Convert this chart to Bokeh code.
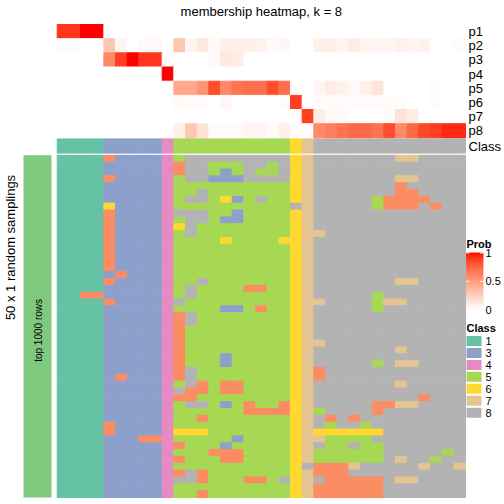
import numpy as np
from bokeh.plotting import figure
from bokeh.models import Range1d
from bokeh.embed import file_html
from bokeh.resources import INLINE
from bokeh.core.properties import value

# ---------------- data ----------------
title = "membership heatmap, k = 8"
prob_labels = ["p1", "p2", "p3", "p4", "p5", "p6", "p7", "p8"]

p1 = [0.92, 0.92, 1.0, 1.0] + [0.0] * 31
p2 = [0.02, 0.02, 0, 0, 0.3, 0.05, 0, 0.03, 0.03, 0,
      0.3, 0.05, 0.12, 0.03, 0.08, 0.08, 0.08, 0.07, 0.02, 0.04,
      0, 0,
      0.08, 0.08, 0.06, 0.1, 0.05, 0.05, 0.05, 0.08, 0.05, 0.07, 0, 0, 0.02]
p3 = [0, 0, 0, 0, 0.6, 0.9, 1.0, 0.92, 0.92, 0,
      0, 0, 0, 0.03, 0.12, 0.1, 0, 0, 0, 0,
      0, 0,
      0, 0, 0, 0, 0, 0, 0, 0, 0, 0, 0, 0, 0]
p4 = [0] * 9 + [1.0] + [0] * 25
p5 = [0] * 10 + [0.45, 0.45, 0.55, 0.85, 0.6, 0.7, 0.72, 0.72, 0.85, 0.72,
                 0, 0,
                 0.05, 0.1, 0.07, 0.04, 0.08, 0.15, 0, 0, 0, 0, 0.02, 0, 0]
p6 = [0] * 10 + [0.03, 0.02, 0.02, 0, 0.04, 0, 0, 0, 0, 0.02,
                 0.9, 0,
                 0.02, 0.02, 0.02, 0.02, 0.02, 0.02, 0.02, 0.02, 0, 0, 0.02, 0, 0]
p7 = [0] * 10 + [0] * 10 + [0, 0.9,
                            0.1, 0.03, 0.03, 0, 0, 0, 0.03, 0.15, 0.1, 0, 0, 0, 0]
p8 = [0] * 10 + [0.08, 0.3, 0.15, 0.02, 0.02, 0.02, 0.06, 0.06, 0.02, 0.08,
                 0.01, 0.01,
                 0.6, 0.65, 0.7, 0.75, 0.75, 0.7, 0.85, 0.6, 0.75, 0.87, 0.9, 0.95, 0.95]
prob_matrix = [p1, p2, p3, p4, p5, p6, p7, p8]

consensus_class = [1] * 4 + [3] * 5 + [4] + [5] * 10 + [6] + [7] + [8] * 13

sampling_classes = [s.replace(" ", "") for s in [
    "1111 23333 4 5888888888 6 7 8888888778888",
    "1111 33333 4 2885558858 6 7 8888888888888",
    "1111 33333 4 2885358558 6 7 8888888888888",
    "1111 23333 4 5883338888 6 7 8888888778888",
    "1111 33333 4 5555555555 6 7 8888888288888",
    "1111 33333 4 5585555555 6 7 8888888228888",
    "1111 33333 4 5885635855 6 7 8888852222888",
    "1111 63333 4 5555555555 8 7 8888852228288",
    "1111 23333 4 8885535555 6 7 8888888888888",
    "1111 23333 4 5885335555 6 7 8888888888888",
    "1111 23333 4 6855555555 6 7 8888888888888",
    "1111 23333 4 5855555555 6 7 7888888888888",
    "1111 23333 4 5555655556 6 7 8888888888888",
    "1111 23333 4 5555555555 6 7 8888888888888",
    "1111 23333 4 5555555555 6 7 8888888888888",
    "1111 23333 4 5555555555 6 7 8888888888888",
    "1111 23333 4 5555555555 6 7 8888888888888",
    "1111 32333 4 5555555555 6 7 8888888888888",
    "1111 23333 4 5585555555 6 7 8888888778888",
    "1111 33333 4 5855552255 6 7 8888888888888",
    "1122 33333 4 5855555555 6 7 8888858888888",
    "1111 23333 4 8555555555 6 7 7888857788888",
    "1111 33333 4 5555335255 6 7 8888858888888",
    "1111 33333 4 2855555555 6 7 8888888888888",
    "1111 33333 4 2855555555 6 7 8888888888888",
    "1111 33333 4 2555555555 6 7 8888888888888",
    "1111 33333 4 2555555555 6 7 8888888888888",
    "1111 33333 4 2555555555 6 7 7888888888888",
    "1111 33333 4 2555555555 6 7 8888888788888",
    "1111 33333 4 2555355555 6 7 8888888888888",
    "1111 33333 4 2555355555 6 7 8888858778888",
    "1111 33333 4 2855555555 6 7 2888888888888",
    "1111 32333 4 2855555555 6 7 2888888888888",
    "1111 33333 4 5825225555 6 7 8888888788888",
    "1111 33333 4 8225225555 6 7 8888888888888",
    "1111 33333 4 2255555555 6 7 8888888882888",
    "1111 33333 4 5885352552 6 7 8888822778888",
    "1111 33333 4 5555552222 6 7 5888828888888",
    "1111 33333 4 5525555555 6 7 8282888888888",
    "1111 23333 4 5555555555 6 7 8588588888888",
    "1111 23333 4 6665555555 6 7 6666668888888",
    "1111 33322 4 5555535555 6 7 7555588888888",
    "1111 33333 4 2555355555 6 7 8558558888888",
    "1111 33333 4 5552225555 6 7 5555558888858",
    "1111 33333 4 2555225555 6 7 5555558788588",
    "1111 33333 4 5555555555 6 8 2227888887887",
    "1111 33333 4 2825555555 6 7 2228888888888",
    "1111 33333 4 8825552258 6 7 8222228778888",
    "1111 33333 4 5555555555 6 7 2222228888888",
    "1111 33333 4 5525555555 6 7 2222228888888",
]]

class_colors = {1: "#66C2A5", 2: "#FC8D62", 3: "#8DA0CB", 4: "#E78AC3",
                5: "#A6D854", 6: "#FFD92F", 7: "#E5C494", 8: "#B3B3B3"}
legend_classes = [1, 3, 4, 5, 6, 7, 8]
prob_ticks = [1.0, 0.5, 0.0]
prob_tick_labels = ["1", "0.5", "0"]
left_title = "50 x 1 random samplings"
split_title = "top 1000 rows"
split_color = "#7FC97F"

# ---------------- colour ramp (white -> red in Lab) ----------------
def _to_lin(c):
    c = c / 255.0
    return np.where(c <= 0.04045, c / 12.92, ((c + 0.055) / 1.055) ** 2.4)

def _from_lin(c):
    c = np.clip(c, 0, 1)
    return np.where(c <= 0.0031308, 12.92 * c, 1.055 * c ** (1 / 2.4) - 0.055) * 255

M = np.array([[0.4124, 0.3576, 0.1805], [0.2126, 0.7152, 0.0722], [0.0193, 0.1192, 0.9505]])
WHITE = np.array([0.95047, 1.0, 1.08883])

def rgb2lab(rgb):
    xyz = M @ _to_lin(np.array(rgb, float)) / WHITE
    f = np.where(xyz > 0.008856, np.cbrt(xyz), 7.787 * xyz + 16 / 116)
    return np.array([116 * f[1] - 16, 500 * (f[0] - f[1]), 200 * (f[1] - f[2])])

def lab2rgb(lab):
    fy = (lab[0] + 16) / 116
    fx = fy + lab[1] / 500
    fz = fy - lab[2] / 200
    f = np.array([fx, fy, fz])
    xyz = np.where(f ** 3 > 0.008856, f ** 3, (f - 16 / 116) / 7.787) * WHITE
    return _from_lin(np.linalg.inv(M) @ xyz)

LAB_W = rgb2lab([255, 255, 255])
LAB_R = rgb2lab([255, 0, 0])

def prob_color(v):
    v = float(np.clip(v, 0, 1))
    r, g, b = lab2rgb(LAB_W + (LAB_R - LAB_W) * v)
    return "#%02x%02x%02x" % (int(round(r)), int(round(g)), int(round(b)))

# ---------------- layout ----------------
HM_X0, HM_X1 = 56.7, 465.0
TOP_Y0, TOP_Y1 = 24.0, 137.4
CLS_Y0, CLS_Y1 = 138.4, 152.6
BOT_Y0, BOT_Y1 = 154.8, 497.0
n_col = len(consensus_class)
cw = (HM_X1 - HM_X0) / n_col
th = (TOP_Y1 - TOP_Y0) / len(prob_matrix)
bh = (BOT_Y1 - BOT_Y0) / len(sampling_classes)
FONT = value("Liberation Sans")

p = figure(width=504, height=504, x_range=Range1d(0, 504), y_range=Range1d(504, 0),
           output_backend="svg", toolbar_location=None, min_border=0)
p.axis.visible = False
p.grid.visible = False
p.outline_line_color = None
p.background_fill_color = "white"

# top probability heatmap
L, R, T, B, C = [], [], [], [], []
for j, row in enumerate(prob_matrix):
    for i, v in enumerate(row):
        L.append(HM_X0 + i * cw); R.append(HM_X0 + (i + 1) * cw)
        T.append(TOP_Y0 + j * th); B.append(TOP_Y0 + (j + 1) * th)
        C.append(prob_color(v))
# class annotation
for i, c in enumerate(consensus_class):
    L.append(HM_X0 + i * cw); R.append(HM_X0 + (i + 1) * cw)
    T.append(CLS_Y0); B.append(CLS_Y1)
    C.append(class_colors[c])
# sampling heatmap
for j, s in enumerate(sampling_classes):
    for i, ch in enumerate(s):
        L.append(HM_X0 + i * cw); R.append(HM_X0 + (i + 1) * cw)
        T.append(BOT_Y0 + j * bh); B.append(BOT_Y0 + (j + 1) * bh)
        C.append(class_colors[int(ch)])
p.quad(left=L, right=R, top=T, bottom=B, fill_color=C, line_color=C, line_width=1)

# split bar on the left
p.quad(left=[23], right=[51], top=[BOT_Y0], bottom=[BOT_Y1], fill_color=split_color, line_color=None)
p.text(x=[38], y=[(BOT_Y0 + BOT_Y1) / 2 + 4], text=[split_title], angle=np.pi / 2,
       text_font=FONT, text_font_size="10px", text_align="center", text_baseline="middle")
p.text(x=[10], y=[247], text=[left_title], angle=np.pi / 2,
       text_font=FONT, text_font_size="13px", text_align="center", text_baseline="middle")

# title
p.text(x=[(HM_X0 + HM_X1) / 2], y=[11], text=[title], text_font=FONT, text_font_size="13px",
       text_align="center", text_baseline="middle")

# row labels
p.text(x=[468] * 9, y=[TOP_Y0 + (j + 0.5) * th for j in range(8)] + [(CLS_Y0 + CLS_Y1) / 2],
       text=prob_labels + ["Class"], text_font=FONT, text_font_size="13px",
       text_align="left", text_baseline="middle")

# Prob legend
p.text(x=[466], y=[243], text=["Prob"], text_font=FONT, text_font_size="11px",
       text_font_style="bold", text_align="left", text_baseline="middle")
G_Y1, G_Y0 = 252.5, 309.0   # value 1 at top, 0 at bottom
nseg = 60
vals = np.linspace(0, 1, nseg + 1)
gl, gr, gt, gb, gc = [], [], [], [], []
for k in range(nseg):
    va, vb = vals[k], vals[k + 1]
    ya = G_Y0 + (G_Y1 - G_Y0) * va
    yb = G_Y0 + (G_Y1 - G_Y0) * vb
    gl.append(466); gr.append(482.5)
    gt.append(min(yb, ya)); gb.append(max(ya, yb))
    gc.append(prob_color((va + vb) / 2))
p.quad(left=gl, right=gr, top=gt, bottom=gb, fill_color=gc, line_color=gc, line_width=1)
tick_y = [G_Y0 + (G_Y1 - G_Y0) * t for t in prob_ticks]
p.segment(x0=[466] * 2 + [479.5] * 2, x1=[469] * 2 + [482.5] * 2,
          y0=tick_y[:2] * 2, y1=tick_y[:2] * 2, line_color="white", line_width=1)
p.text(x=[485] * 3, y=tick_y, text=prob_tick_labels, text_font=FONT, text_font_size="11px",
       text_align="left", text_baseline="middle")

# Class legend
p.text(x=[466], y=[327], text=["Class"], text_font=FONT, text_font_size="11px",
       text_font_style="bold", text_align="left", text_baseline="middle")
sy = [340.5 + k * 11.94 for k in range(len(legend_classes))]
p.quad(left=[466] * len(sy), right=[481] * len(sy), top=[y - 5 for y in sy], bottom=[y + 5 for y in sy],
       fill_color=[class_colors[c] for c in legend_classes], line_color=None)
p.text(x=[485] * len(sy), y=sy, text=[str(c) for c in legend_classes], text_font=FONT,
       text_font_size="11px", text_align="left", text_baseline="middle")

open("out.html", "w").write(file_html(p, INLINE))
